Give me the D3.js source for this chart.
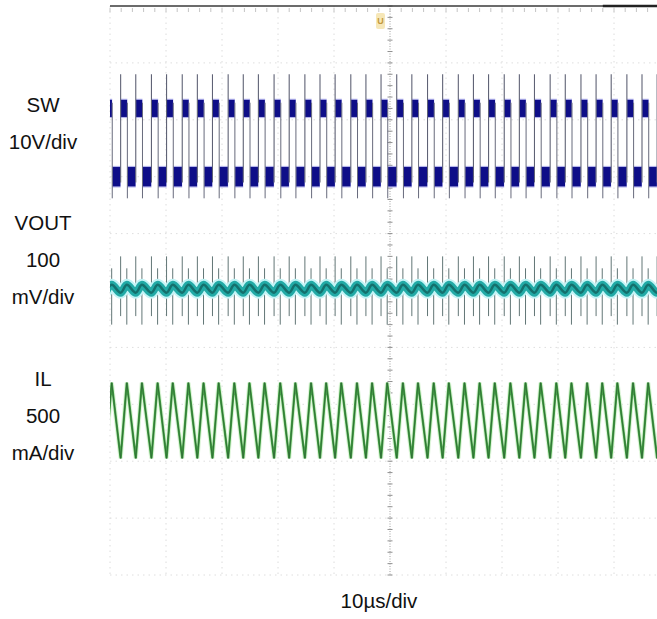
<!DOCTYPE html>
<html>
<head>
<meta charset="utf-8">
<script src="https://cdn.jsdelivr.net/npm/d3@7"></script>
<style>
body { margin: 0; background: #fff; }
text { font-family: "Liberation Sans", Arial, sans-serif; fill: #111; }
</style>
</head>
<body>
<div id="scope"></div>
<script>

// switching node rising edges (µs from trigger)
var risingEdges = [-50.8, -48.1, -45.4, -42.6, -39.9, -37.1, -34.4, -31.7, -28.9, -26.2,
    -23.5, -20.7, -18.0, -15.2, -12.5, -9.8, -7.0, -4.3, -1.6, 1.2,
    3.9, 6.7, 9.4, 12.2, 14.9, 17.6, 20.4, 23.1, 25.8, 28.6,
    31.3, 34.1, 36.8, 39.5, 42.3, 45.0, 47.7, 50.5]
var onTime = 1.1

// levels in divisions from screen centre
var swLevels = [2.0, 3.2]          // low, high
var swSpikes = [1.62, 3.8]         // undershoot, overshoot
var voutLevels = [-0.04, 0.1]      // ripple min, max
var voutSpikes = [-0.6, 0.6]
var ilLevels = [-2.95, -1.62]      // valley, peak

var channelNames = ["SW", "VOUT", "IL"]
var channelScales = [["10V/div"], ["100", "mV/div"], ["500", "mA/div"]]
var timeLabel = "10µs/div"
var timeDivs = d3.range(-50, 51, 10)
var voltDivs = d3.range(-5, 6, 1)

var width = 657, height = 619

var svg = d3.select("#scope").append("svg")
    .attr("width", width)
    .attr("height", height)

var x = d3.scaleLinear().domain([-50, 50]).range([110, 670])
var y = d3.scaleLinear().domain([-5, 5]).range([575, 6])

svg.append("defs").append("clipPath").attr("id", "screen")
    .append("rect")
    .attr("x", x(-50)).attr("y", y(5))
    .attr("width", width - x(-50)).attr("height", y(-5) - y(5))

var grid = svg.append("g")

// dotted graticule
grid.selectAll(".vgrid")
    .data(timeDivs.filter(function(d) { return d !== 0 }))
    .enter().append("line")
    .attr("x1", function(d) { return x(d) }).attr("x2", function(d) { return x(d) })
    .attr("y1", y(5)).attr("y2", y(-5))
    .style("stroke", "#dcdcdc")
    .style("stroke-width", 1)
    .style("stroke-dasharray", "1.5,4")

grid.selectAll(".hgrid")
    .data(voltDivs.filter(function(d) { return d !== 0 && d !== 5 }))
    .enter().append("line")
    .attr("x1", x(-50)).attr("x2", width)
    .attr("y1", function(d) { return y(d) }).attr("y2", function(d) { return y(d) })
    .style("stroke", "#dedede")
    .style("stroke-width", 1)
    .style("stroke-dasharray", "1.5,4")

// centre axes with minor ticks
grid.append("line")
    .attr("x1", x(0)).attr("x2", x(0))
    .attr("y1", y(5)).attr("y2", y(-5))
    .style("stroke", "#a0a0a0")
    .style("stroke-width", 1)
    .style("stroke-dasharray", "1,1.5")

grid.append("line")
    .attr("x1", x(-50)).attr("x2", width)
    .attr("y1", y(0)).attr("y2", y(0))
    .style("stroke", "#c0c0c0")
    .style("stroke-width", 1)
    .style("stroke-dasharray", "1,2")

grid.selectAll(".ytick")
    .data(d3.range(-5, 5.01, 0.2))
    .enter().append("line")
    .attr("x1", x(0) - 2.5).attr("x2", x(0) + 2.5)
    .attr("y1", function(d) { return y(d) }).attr("y2", function(d) { return y(d) })
    .style("stroke", "#909090")
    .style("stroke-width", 1)

grid.selectAll(".xtick")
    .data(d3.range(-50, 50.01, 2))
    .enter().append("line")
    .attr("x1", function(d) { return x(d) }).attr("x2", function(d) { return x(d) })
    .attr("y1", y(5) + 2).attr("y2", y(5) + 6)
    .style("stroke", "#c4c4c4")
    .style("stroke-width", 1)

// top edge of the screen
grid.append("line")
    .attr("x1", x(-50)).attr("x2", width)
    .attr("y1", y(5)).attr("y2", y(5))
    .style("stroke", "#3a3a3a")
    .style("stroke-width", 1.5)

grid.append("line")
    .attr("x1", x(38)).attr("x2", width)
    .attr("y1", y(5)).attr("y2", y(5))
    .style("stroke", "#222")
    .style("stroke-width", 2.5)

var traces = svg.append("g").attr("clip-path", "url(#screen)")

var cycles = risingEdges.slice(0, -1).map(function(r, i) {
    return { rise: r, fall: r + onTime, next: risingEdges[i + 1] }
})

// ---- SW ----
var sw = traces.append("g")

function swBand(sel, cls, x0, x1, level, half, colour) {
    sel.selectAll("." + cls)
        .data(cycles)
        .enter().append("rect")
        .attr("x", function(d) { return x(x0(d)) })
        .attr("width", function(d) { return x(x1(d)) - x(x0(d)) })
        .attr("y", y(level + half))
        .attr("height", y(level - half) - y(level + half))
        .style("fill", colour)
}

swBand(sw, "hiHalo", function(d) { return d.rise }, function(d) { return d.fall + 0.1 }, swLevels[1], 0.17, "#b4b4ec")
swBand(sw, "loHalo", function(d) { return d.fall + 0.1 }, function(d) { return d.next }, swLevels[0], 0.19, "#b4b4ec")
swBand(sw, "hi", function(d) { return d.rise + 0.05 }, function(d) { return d.fall + 0.05 }, swLevels[1], 0.15, "#0e0e88")
swBand(sw, "lo", function(d) { return d.fall + 0.15 }, function(d) { return d.next - 0.05 }, swLevels[0], 0.17, "#0e0e88")

sw.selectAll(".riseEdge")
    .data(cycles)
    .enter().append("line")
    .attr("x1", function(d) { return x(d.rise) }).attr("x2", function(d) { return x(d.rise) })
    .attr("y1", y(swLevels[0] - 0.1)).attr("y2", y(swSpikes[1]))
    .style("stroke", "#5f6275")
    .style("stroke-width", 1.1)

sw.selectAll(".fallEdge")
    .data(cycles)
    .enter().append("line")
    .attr("x1", function(d) { return x(d.fall + 0.1) }).attr("x2", function(d) { return x(d.fall + 0.1) })
    .attr("y1", y(swLevels[1] + 0.1)).attr("y2", y(swSpikes[0]))
    .style("stroke", "#676a7c")
    .style("stroke-width", 1)

// ---- VOUT ----
var vout = traces.append("g")

vout.selectAll(".vspike")
    .data(cycles.reduce(function(a, d) { return a.concat([d.rise, d.fall]) }, []))
    .enter().append("line")
    .attr("x1", function(d) { return x(d) }).attr("x2", function(d) { return x(d) })
    .attr("y1", function(d, i) { return y(voutSpikes[0] * (i % 2 ? 1 : 0.75)) })
    .attr("y2", function(d, i) { return y(voutSpikes[1] * (i % 2 ? 0.65 : 1)) })
    .style("stroke", "#627676")
    .style("stroke-width", 1)

var voutPoints = cycles.reduce(function(a, d) {
    return a.concat([[d.rise, voutLevels[0]], [d.fall, voutLevels[1]]])
}, [])

var voutLine = d3.line()
    .x(function(d) { return x(d[0]) })
    .y(function(d) { return y(d[1]) })
    .curve(d3.curveMonotoneX)

vout.append("path").attr("d", voutLine(voutPoints))
    .style("fill", "none").style("stroke", "#c4f4f6").style("stroke-width", 12)
vout.append("path").attr("d", voutLine(voutPoints))
    .style("fill", "none").style("stroke", "#22aaa6").style("stroke-width", 8)
vout.append("path").attr("d", voutLine(voutPoints))
    .style("fill", "none").style("stroke", "#14706d").style("stroke-width", 2.5)

// ---- IL ----
var il = traces.append("g")

var ilPoints = cycles.reduce(function(a, d) {
    return a.concat([[d.rise, ilLevels[0]], [d.fall, ilLevels[1]]])
}, [])

var ilLine = d3.line()
    .x(function(d) { return x(d[0]) })
    .y(function(d) { return y(d[1]) })

il.append("path").attr("d", ilLine(ilPoints))
    .style("fill", "none").style("stroke", "#e0f6dc").style("stroke-width", 4.5)
il.append("path").attr("d", ilLine(ilPoints))
    .style("fill", "none").style("stroke", "#46a646").style("stroke-width", 2.3)
il.append("path").attr("d", ilLine(ilPoints))
    .style("fill", "none").style("stroke", "#2f6a35").style("stroke-width", 0.9)

// trigger marker
var marker = svg.append("g").attr("transform", "translate(" + (x(-1.7)) + "," + (y(5) + 7) + ")")
marker.append("rect")
    .attr("x", -4.5).attr("y", 0)
    .attr("width", 9).attr("height", 16).attr("rx", 2)
    .style("fill", "#f6e7b8")
marker.append("text")
    .attr("x", 0).attr("y", 11)
    .attr("text-anchor", "middle")
    .style("font-size", "9px")
    .style("font-weight", "bold")
    .style("fill", "#c49a3c")
    .text("U")

// channel labels
var groupTop = [104, 222, 378]
var lineGap = 37

channelNames.forEach(function(name, i) {
    var lines = [name].concat(channelScales[i])
    svg.selectAll(".lab" + i)
        .data(lines)
        .enter().append("text")
        .attr("x", 43)
        .attr("y", function(d, j) { return groupTop[i] + j * lineGap + 7.5 })
        .attr("text-anchor", "middle")
        .style("font-size", "20.5px")
        .text(function(d) { return d })
})

svg.append("text")
    .attr("x", 379)
    .attr("y", 608)
    .attr("text-anchor", "middle")
    .style("font-size", "20.5px")
    .text(timeLabel)

</script>
</body>
</html>
